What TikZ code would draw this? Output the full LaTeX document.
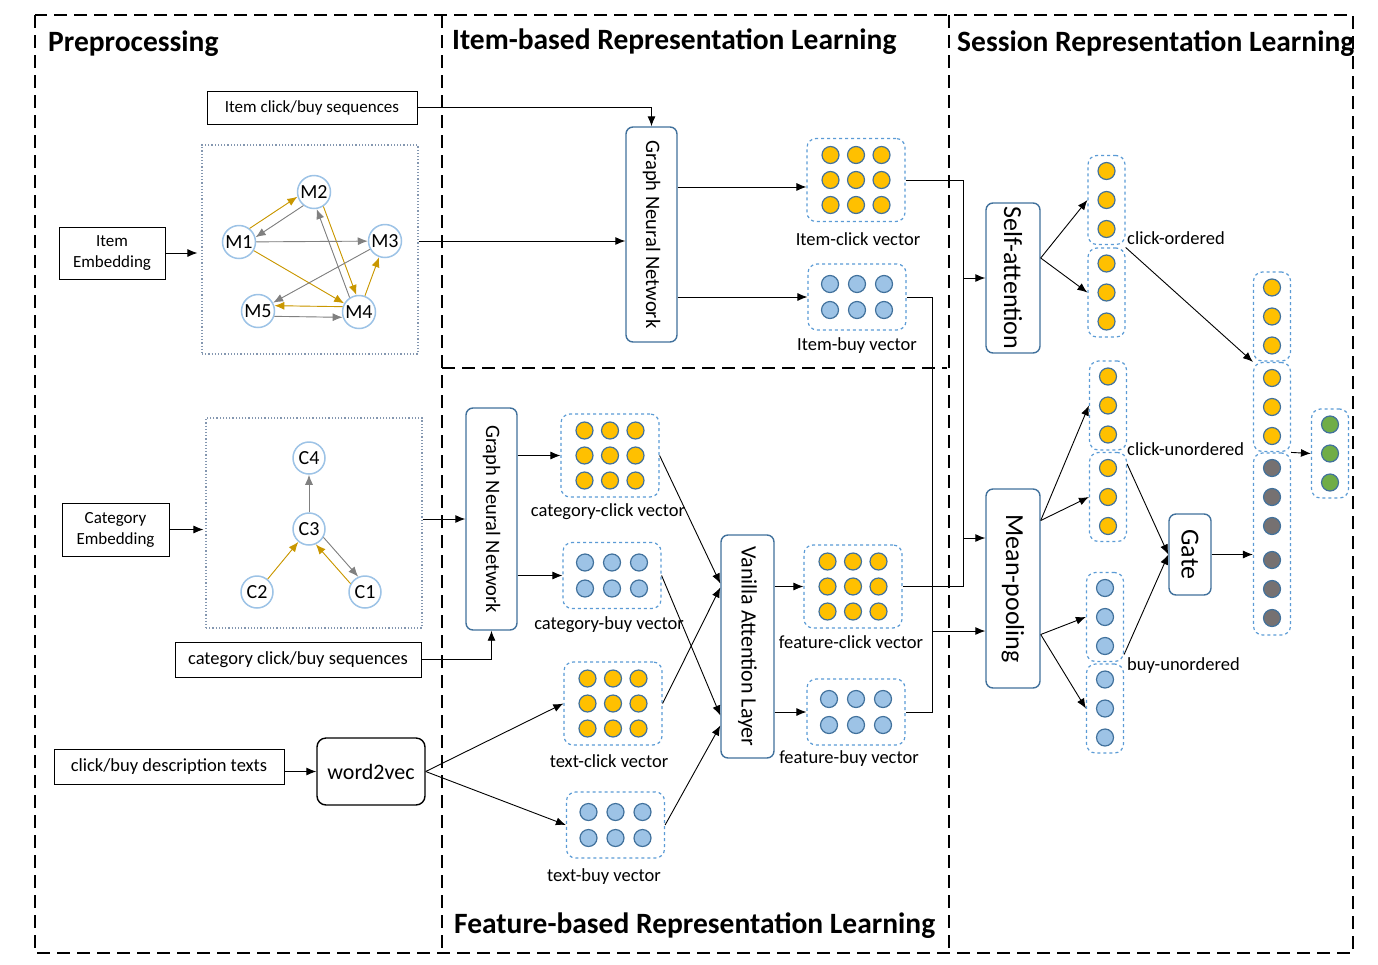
\documentclass[tikz,border=0pt]{standalone}
\usepackage{fontspec}
\setmainfont{Carlito}
\usepackage{graphicx}
\usepackage{tikz}
\usetikzlibrary{arrows,arrows.meta,shapes}
\usetikzlibrary{positioning}
\usetikzlibrary{calc}
\definecolor{gold}{HTML}{FFC000}
\definecolor{lblue}{HTML}{9DC3E6}
\definecolor{edgeblue}{HTML}{41719C}
\definecolor{dashblue}{HTML}{5B9BD5}
\definecolor{darkgold}{HTML}{C99700}
\definecolor{dotgrey}{HTML}{8497B0}
\definecolor{dgrey}{HTML}{767171}
\definecolor{lgreen}{HTML}{70AD47}
\tikzstyle{frame}=[draw=black, line width=1.5pt, dash pattern=on 13pt off 7pt]
\tikzstyle{title}=[font=\fontsize{29.5}{32}\selectfont\bfseries, anchor=west, inner sep=0pt]
\tikzstyle{plainbox}=[draw, line width=1pt, align=center, font=\fontsize{17}{21}\selectfont, inner sep=0pt]
\tikzstyle{layer}=[draw=edgeblue, line width=1.4pt, rounded corners=7pt, fill=white, inner sep=0pt]
\tikzstyle{dotbox}=[draw=dotgrey, dotted, line width=1.2pt, inner sep=0pt]
\tikzstyle{vecbox}=[draw=dashblue, dashed, line width=1.2pt, rounded corners=9pt, inner sep=0pt]
\tikzstyle{unit}=[circle, draw=edgeblue, line width=1.2pt, minimum size=17pt, inner sep=0pt]
\tikzstyle{gnode}=[circle, draw=lblue, line width=1.5pt, fill=white, minimum size=33pt, inner sep=0pt, font=\fontsize{20}{22}\selectfont]
\tikzstyle{vlabel}=[font=\fontsize{18.5}{20}\selectfont, inner sep=0pt]
\tikzstyle{gedge}=[->, line width=0.9pt, draw=darkgold, fill=darkgold]
\tikzstyle{redge}=[->, line width=0.9pt, draw=gray, fill=gray]
\tikzstyle{conn}=[line width=0.9pt]

\begin{document}
\begin{tikzpicture}[x=1pt, y=-1pt, >={Latex[length=10pt,width=8pt]}]

  \useasboundingbox (0,0) rectangle (1378,964);

  % dashed frame and section borders
  \draw[frame] (35,15) rectangle (1353,953);
  \draw[frame] (442,15) -- (442,953);
  \draw[frame] (949,15) -- (949,953);
  \draw[frame] (442,368) -- (947,368);

  \node[title] (tpre) at (48,44) {Preprocessing};
  \node[title] (titem) at (452,42) {Item-based Representation Learning};
  \node[title] (tsess) at (957,44) {Session Representation Learning};
  \node[title] (tfeat) at (454,926) {Feature-based Representation Learning};

  % preprocessing
  \node[plainbox, minimum width=210pt, minimum height=33pt] (iseq) at (312,107.5) {Item click/buy sequences};
  \node[plainbox, minimum width=106pt, minimum height=52pt] (iemb) at (112,253) {Item\\Embedding};
  \node[dotbox, minimum width=216pt, minimum height=209pt] (igraph) at (310,249.5) {};
  \node[plainbox, minimum width=107pt, minimum height=53pt] (cemb) at (115.5,529.5) {Category\\Embedding};
  \node[dotbox, minimum width=216pt, minimum height=210pt] (cgraph) at (314,523) {};
  \node[plainbox, minimum width=246pt, minimum height=35pt, font=\fontsize{18.5}{21}\selectfont] (cseq) at (298,659.5) {category click/buy sequences};
  \node[plainbox, minimum width=230pt, minimum height=35pt, font=\fontsize{18.5}{21}\selectfont] (desc) at (169,766.5) {click/buy description texts};
  \node[draw, line width=1.4pt, rounded corners=9pt, minimum width=108pt, minimum height=67pt, inner sep=0pt, font=\fontsize{22}{24}\selectfont] (w2v) at (371,771.5) {word2vec};

  \foreach \pos/\name/\txt in {{(239,242)/m1/M1}, {(314,192)/m2/M2}, {(385,241)/m3/M3}, {(359,312)/m4/M4}, {(258,311)/m5/M5}}
    \node[gnode] (\name) at \pos {\txt};
  \foreach \pos/\name/\txt in {{(365,592)/c1/C1}, {(257,592)/c2/C2}, {(309,529)/c3/C3}, {(309,458)/c4/C4}}
    \node[gnode, minimum size=32pt] (\name) at \pos {\txt};

  \foreach \source/\dest in {m1.52/m2.196, m1/m4, m2.303/m4.99, m4/m3, m4.162/m5.18, c2/c3, c1.150/c3.294}
    \draw[gedge] (\source) -- (\dest);
  \foreach \source/\dest in {m2.232/m1.16, m1/m3, m4.123/m2.279, m3/m5, m5.342/m4.198, c3/c4, c3.330/c1.114}
    \draw[redge] (\source) -- (\dest);

  % network layers
  \node[layer, minimum width=51pt, minimum height=215pt, font=\fontsize{20.5}{22}\selectfont] (gnni) at (651.5,234.5) {\rotatebox{-90}{Graph Neural Network}};
  \node[layer, minimum width=51pt, minimum height=222pt, font=\fontsize{20.5}{22}\selectfont] (gnnc) at (491.5,519) {\rotatebox{-90}{Graph Neural Network}};
  \node[layer, minimum width=53pt, minimum height=223pt, font=\fontsize{22}{24}\selectfont] (val) at (747.5,646.5) {\rotatebox{-90}{Vanilla Attention Layer}};
  \node[layer, minimum width=54pt, minimum height=150pt, font=\fontsize{26}{28}\selectfont] (selfatt) at (1013,278) {\rotatebox{-90}{Self-attention}};
  \node[layer, minimum width=54pt, minimum height=199pt, font=\fontsize{26}{28}\selectfont] (meanpool) at (1013,588.5) {\rotatebox{-90}{Mean-pooling}};
  \node[layer, minimum width=42pt, minimum height=81pt, font=\fontsize{26}{28}\selectfont] (gate) at (1190,554.5) {\rotatebox{-90}{Gate}};

  % vectors
  \foreach \name/\x/\y in {iclick/856/180, cclick/610/455.5, tclick/613/703.5, fclick/853/586.5}{
    \node[vecbox, minimum width=98pt, minimum height=83pt] (\name) at (\x,\y) {};
    \foreach \r in {-1,0,1}
      \foreach \c in {-1,0,1}
        \node[unit, fill=gold] (\name\r\c) at (\x+25.5*\c, \y+25*\r) {};
  }
  \foreach \name/\x/\y in {ibuy/857/297, cbuy/612/575.5, tbuy/615.5/825, fbuy/856/712}{
    \node[vecbox, minimum width=98pt, minimum height=66pt] (\name) at (\x,\y) {};
    \foreach \r in {-1,1}
      \foreach \c in {-1,0,1}
        \node[unit, fill=lblue] (\name\r\c) at (\x+27*\c, \y+13*\r) {};
  }
  \foreach \name/\x/\y/\col in {co1/1106.5/200/gold, co2/1106.5/292.5/gold, cu1/1108/405.5/gold, cu2/1108/497/gold, bu1/1105/617/lblue, bu2/1105/708.5/lblue, fin1/1272/316.5/gold, fin2/1272/407/gold, out/1330/453.5/lgreen}{
    \node[vecbox, minimum width=37pt, minimum height=89pt] (\name) at (\x,\y) {};
    \foreach \r in {-1,0,1}
      \node[unit, fill=\col] (\name\r) at (\x, \y+29*\r) {};
  }
  \node[vecbox, minimum width=37pt, minimum height=182pt] (grey) at (1272,544) {};
  \foreach \r/\y in {1/468, 2/497, 3/526, 4/560, 5/589, 6/618}
    \node[unit, fill=dgrey] (grey\r) at (1272,\y) {};

  \node[vlabel] (iclicklab) at (858,239) {Item-click vector};
  \node[vlabel] (ibuylab) at (857,346) {Item-buy vector};
  \node[vlabel] (cclicklab) at (608,512) {category-click vector};
  \node[vlabel] (cbuylab) at (609,625) {category-buy vector};
  \node[vlabel] (tclicklab) at (609,761) {text-click vector};
  \node[vlabel] (tbuylab) at (604,877) {text-buy vector};
  \node[vlabel] (fclicklab) at (851,642) {feature-click vector};
  \node[vlabel] (fbuylab) at (849,759) {feature-buy vector};
  \node[vlabel, anchor=west] (colab) at (1127,238) {click-ordered};
  \node[vlabel, anchor=west] (culab) at (1127,449) {click-unordered};
  \node[vlabel, anchor=west] (bulab) at (1127,666) {buy-unordered};

  % connectors
  \draw[->, conn] (iseq.east) -| (gnni.north);
  \draw[->, conn] (iemb.east) -- ($(igraph.west |- iemb.east)+(-4,0)$);
  \draw[->, conn] (igraph.east |- m3) -- (gnni.west |- m3);
  \draw[->, conn] (gnni.east |- iclick.188) -- (iclick.188);
  \draw[->, conn] (gnni.east |- ibuy.west) -- (ibuy.west);

  \draw[->, conn] (cemb.east) -- ($(cgraph.west |- cemb.east)+(-2,0)$);
  \draw[->, conn] (cgraph.east |- gnnc.west) -- (gnnc.west);
  \draw[->, conn] (cseq.east) -| (gnnc.south);
  \draw[->, conn] (gnnc.east |- cclick.west) -- (cclick.west);
  \draw[->, conn] (gnnc.east |- cbuy.west) -- (cbuy.west);
  \draw[->, conn] (desc.east |- w2v.west) -- (w2v.west);
  \draw[->, conn] (w2v.east) -- (tclick.west);
  \draw[->, conn] (w2v.east) -- (tbuy.west);

  \draw[->, conn] (cclick.east) -- ($(val.west)+(0,-63)$);
  \draw[->, conn] (tclick.east) -- ($(val.west)+(0,-59)$);
  \draw[->, conn] (cbuy.east) -- ($(val.west)+(0,69)$);
  \draw[->, conn] (tbuy.east) -- ($(val.west)+(0,79)$);
  \draw[->, conn] (val.east |- fclick.west) -- (fclick.west);
  \draw[->, conn] (val.east |- fbuy.west) -- (fbuy.west);

  \coordinate (bus1) at (963,175);
  \coordinate (bus2) at (932,297);
  \coordinate (tap1) at (963,538);
  \coordinate (tap2) at (932,631);
  \draw[conn] (iclick.east) -| (bus1 |- fclick.east) -- (fclick.east);
  \draw[conn] (ibuy.east) -| (bus2 |- fbuy.east) -- (fbuy.east);
  \draw[->, conn] (bus1 |- selfatt.west) -- (selfatt.west);
  \draw[->, conn] (tap1) -- (meanpool.west |- tap1);
  \draw[->, conn] (tap2) -- (meanpool.west |- tap2);

  \draw[->, conn] ($(selfatt.east)+(0,-20)$) -- (co1.west);
  \draw[->, conn] ($(selfatt.east)+(0,-20)$) -- (co2.west);
  \draw[->, conn] ($(meanpool.east)+(0,-68)$) -- (cu1.west);
  \draw[->, conn] ($(meanpool.east)+(0,-68)$) -- (cu2.west);
  \draw[->, conn] ($(meanpool.east)+(0,46)$) -- (bu1.west);
  \draw[->, conn] ($(meanpool.east)+(0,46)$) -- (bu2.west);
  \draw[->, conn] (co2.north east) -- (fin2.north west);
  \draw[->, conn] (cu2.60) -- (gate.west);
  \draw[->, conn] (bu1.-63) -- (gate.west);
  \draw[->, conn] (gate.east) -- (grey.west |- gate.east);
  \draw[->, conn] (grey.north east) -- (out.west);

\end{tikzpicture}
\end{document}
